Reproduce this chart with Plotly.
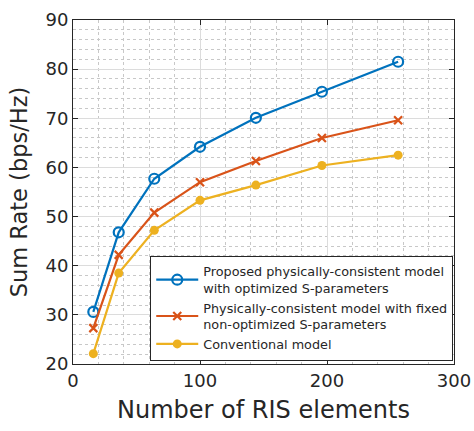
import plotly.graph_objects as go

n_elements = [16, 36, 64, 100, 144, 196, 256]
proposed = [30.6, 46.8, 57.7, 64.2, 70.1, 75.4, 81.5]
fixed_s = [27.3, 42.2, 50.8, 57.0, 61.3, 66.0, 69.6]
conventional = [22.1, 38.5, 47.2, 53.3, 56.4, 60.4, 62.5]

names = ["Proposed physically-consistent model<br>with optimized S-parameters",
         "Physically-consistent model with fixed<br>non-optimized S-parameters",
         "Conventional model"]
colors = ["#0072BD", "#D95319", "#EDB120"]

fig = go.Figure()
fig.add_trace(go.Scatter(x=n_elements, y=proposed, name=names[0], mode="lines+markers",
                         line=dict(color=colors[0], width=2.2),
                         marker=dict(symbol="circle-open", size=10, color=colors[0], line=dict(width=2.2))))
fig.add_trace(go.Scatter(x=n_elements, y=fixed_s, name=names[1], mode="lines+markers",
                         line=dict(color=colors[1], width=2.2),
                         marker=dict(symbol="x-thin-open", size=8, color=colors[1], line=dict(width=2.2, color=colors[1]))))
fig.add_trace(go.Scatter(x=n_elements, y=conventional, name=names[2], mode="lines+markers",
                         line=dict(color=colors[2], width=2.2),
                         marker=dict(symbol="circle", size=9, color=colors[2])))

axis_common = dict(showline=True, linecolor="#262626", linewidth=1, mirror="allticks",
                   ticks="inside", ticklen=5, tickcolor="#262626",
                   showgrid=True, gridcolor="#dcdcdc", gridwidth=1, zeroline=False,
                   automargin=False,
                   tickfont=dict(size=18, color="#262626"))

fig.update_xaxes(range=[0, 300], dtick=100, tick0=0,
                 title=dict(text="Number of RIS elements", font=dict(size=24, color="#262626"), standoff=11),
                 minor=dict(dtick=20, showgrid=True, griddash="dot", gridcolor="#c8c8c8", gridwidth=1),
                 **axis_common)
fig.update_yaxes(range=[20, 90], dtick=10, tick0=20,
                 title=dict(text="Sum Rate (bps/Hz)", font=dict(size=22.5, color="#262626"), standoff=11),
                 minor=dict(dtick=2, showgrid=True, griddash="dot", gridcolor="#c8c8c8", gridwidth=1),
                 **axis_common)

fig.update_layout(
    width=474, height=431,
    margin=dict(l=73, r=20, t=20, b=67),
    plot_bgcolor="white", paper_bgcolor="white",
    font=dict(family="DejaVu Sans, sans-serif", color="#262626"),
    legend=dict(x=0.998, y=0.01, xanchor="right", yanchor="bottom",
                bgcolor="white", bordercolor="#262626", borderwidth=1,
                font=dict(size=12.8, color="#262626"), tracegroupgap=0,
                itemwidth=42),
    showlegend=True,
)

fig.write_html("out.html")
